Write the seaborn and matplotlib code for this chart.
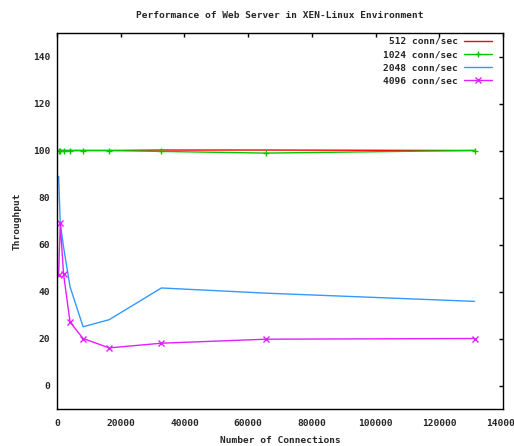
import numpy as np
import pandas as pd
import matplotlib
matplotlib.use("Agg")
import matplotlib.pyplot as plt
import seaborn as sns

# ── Data ──────────────────────────────────────────────────────────────────────
connections = [512, 1024, 2048, 4096, 8192, 16384, 32768, 65536, 131072]
rate_512  = [100, 100, 100, 100, 100, 100, 100.2, 100.2, 100]
rate_1024 = [100, 100, 100, 100, 100, 100, 99.6, 98.9, 100]
rate_2048 = [89, 69, 59, 42, 25, 28, 41.5, 39.3, 35.8]
rate_4096 = [47, 69, 47.5, 27, 20, 16, 18, 19.7, 20]

series_names = ["512 conn/sec", "1024 conn/sec", "2048 conn/sec", "4096 conn/sec"]
series_vals = [rate_512, rate_1024, rate_2048, rate_4096]
colors  = ["#ff0000", "#00c800", "#3399ff", "#e020ff"]
markers = [None, "+", None, "x"]

x_ticks = list(range(0, 140001, 20000))
y_ticks = list(range(0, 141, 20))

# ── Style ──────────────────────────────────────────────────────────────────────
sns.set_style("white")
plt.rcParams["font.family"] = ["DejaVu Sans Mono"]
plt.rcParams["font.weight"] = "bold"
FS = 6.8

fig = plt.figure(figsize=(5.14, 4.46), dpi=100)
ax = fig.add_axes([57 / 514, 1 - 409 / 446, 446 / 514, 376 / 446])

for name, vals, c, m in zip(series_names, series_vals, colors, markers):
    df = pd.DataFrame({"x": connections, "y": vals})
    sns.lineplot(data=df, x="x", y="y", ax=ax, color=c, lw=1.0,
                 marker=m, markersize=5, markeredgewidth=1.0,
                 markeredgecolor=c, label=name)

ax.set_xlim(0, 140000)
ax.set_ylim(-10, 150)
ax.set_xticks(x_ticks)
ax.set_yticks(y_ticks)
ax.set_xticklabels([str(t) for t in x_ticks], fontsize=FS, fontweight="bold")
ax.set_yticklabels([str(t) for t in y_ticks], fontsize=FS, fontweight="bold")
ax.tick_params(direction="in", length=3, width=1, top=True, right=True,
               color="black", pad=7)
ax.tick_params(axis="y", pad=5)
for s in ax.spines.values():
    s.set_color("black")
    s.set_linewidth(1.0)

ax.set_title("Performance of Web Server in XEN-Linux Environment",
             fontsize=FS, fontweight="bold", pad=11)
ax.set_xlabel("Number of Connections", fontsize=FS, fontweight="bold", labelpad=6)
ax.set_ylabel("Throughput", fontsize=FS, fontweight="bold", labelpad=8)

leg = ax.legend(loc="upper right", bbox_to_anchor=(492 / 514, 1 - 37 / 446),
                bbox_transform=fig.transFigure, frameon=False, markerfirst=False,
                borderpad=0, borderaxespad=0, labelspacing=0.45,
                handlelength=3.0, handletextpad=0.6,
                prop={"size": FS, "weight": "bold", "family": "DejaVu Sans Mono"})

fig.savefig("out.png", dpi=100)
